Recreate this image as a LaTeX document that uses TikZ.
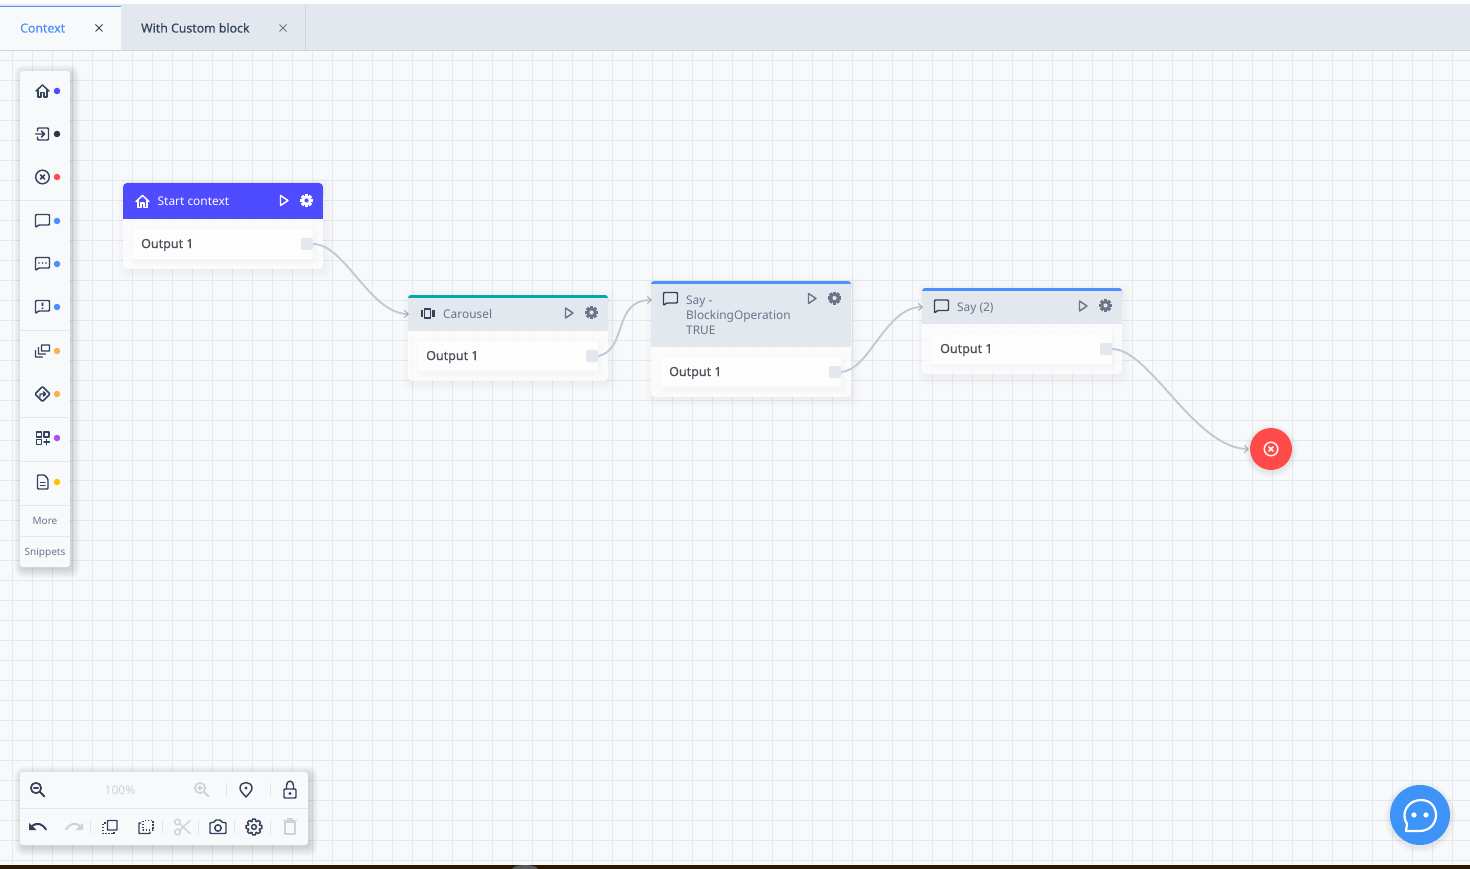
\documentclass[tikz,border=0pt]{standalone}
\usepackage{fontspec}
\setmainfont{Noto Sans}
\newfontfamily\medfont[FakeBold=0.25]{Noto Sans}
\usetikzlibrary{positioning,arrows.meta}

\definecolor{canvasbg}{HTML}{F8F9FB}
\definecolor{gridline}{HTML}{E4E8F1}
\definecolor{tabbg}{HTML}{E3E7EE}
\definecolor{tabline}{HTML}{CFD4DC}
\definecolor{sepline}{HTML}{E3E7EE}
\definecolor{inkdark}{HTML}{34425C}
\definecolor{inkgrey}{HTML}{6B7488}
\definecolor{inkoff}{HTML}{CDD2DA}
\definecolor{outtext}{HTML}{4B4F58}
\definecolor{portbg}{HTML}{E3E7EE}
\definecolor{wirecol}{HTML}{C3C8D1}
\definecolor{tipcol}{HTML}{9CA3AF}
\definecolor{startcol}{HTML}{4F4BFF}
\definecolor{tealcol}{HTML}{00A8A8}
\definecolor{saycol}{HTML}{4C8FFF}
\definecolor{redcol}{HTML}{FF4A4A}
\definecolor{orangecol}{HTML}{FFAE4F}
\definecolor{purplecol}{HTML}{A94FF5}
\definecolor{yellowcol}{HTML}{FFC400}
\definecolor{chatcol}{HTML}{3D93F7}

\tikzset{
	x=1pt, y=-1pt,
	wire/.style={draw=wirecol, line width=1.9pt, -{Straight Barb[length=4pt,width=7pt,line width=0.9pt,color=tipcol]}},
	portbox/.style={draw=none, fill=portbg, rounded corners=1.5pt, minimum size=12pt, inner sep=0pt},
	outrow/.style={draw=none, fill=white, fill opacity=0.85, minimum width=180pt, minimum height=30pt, inner sep=0pt},
	outlabel/.style={anchor=base west, inner sep=0pt, text=outtext, font=\fontsize{12.5}{15}\medfont},
	headlabel/.style={anchor=base west, inner sep=0pt, text=inkgrey, font=\fontsize{11.9}{15}\selectfont},
	tablabel/.style={anchor=base west, inner sep=0pt, font=\fontsize{12.3}{15}\medfont},
	barlabel/.style={anchor=base, inner sep=0pt, text=inkgrey, font=\fontsize{10}{12}\selectfont},
	dot/.style={circle, minimum size=6.5pt, inner sep=0pt, draw=none},
	bodybox/.style={fill=white, fill opacity=0.8, rounded corners=4pt},
	ic/.style={line width=1.45pt, line join=round, line cap=round},
	pics/homeic/.style={code={
		\draw[ic] (-6.5,0) -- (0,-6) -- (6.5,0);
		\draw[ic] (-4.5,-1) -- (-4.5,6) -- (-1.5,6) -- (-1.5,1.5) -- (1.5,1.5) -- (1.5,6) -- (4.5,6) -- (4.5,-1);
	}},
	pics/entryic/.style={code={
		\draw[ic,rounded corners=1pt] (-5,-3) -- (-5,-6) -- (6,-6) -- (6,6) -- (-5,6) -- (-5,3);
		\draw[ic] (-7,0) -- (2,0) (-1,-3) -- (2,0) -- (-1,3);
	}},
	pics/exitic/.style={code={
		\draw[ic] (0,0) circle[radius=6.8];
		\draw[ic] (-2.2,-2.2) -- (2.2,2.2) (-2.2,2.2) -- (2.2,-2.2);
	}},
	pics/sayic/.style={code={
		\draw[ic,rounded corners=1pt] (-7,6.5) -- (-7,-6.5) -- (7,-6.5) -- (7,4) -- (-4,4) -- cycle;
	}},
	pics/stackic/.style={code={
		\draw[ic,rounded corners=0.5pt] (-1,-6) rectangle (7,0);
		\draw[ic,rounded corners=0.5pt] (-4,-3.5) -- (-4,3) -- (3,3);
		\draw[ic,rounded corners=0.5pt] (-7,-0.5) -- (-7,6) -- (0,6);
	}},
	pics/routeic/.style={code={
		\draw[ic,rounded corners=1pt] (0,-7.5) -- (7.5,0) -- (0,7.5) -- (-7.5,0) -- cycle;
		\draw[ic] (-2.5,3) -- (-2.5,0) -- (3,0) (1,-2) -- (3,0) -- (1,2);
	}},
	pics/customic/.style={code={
		\draw[ic,line cap=butt] (-6,-6) rectangle (-1,-1);
		\draw[ic,line cap=butt] (1.5,-6) rectangle (6.5,-1);
		\draw[ic,line cap=butt] (-6,1.5) rectangle (-1,6.5);
		\draw[ic] (1.5,4) -- (7,4) (4.2,1.5) -- (4.2,6.8);
	}},
	pics/docic/.style={code={
		\draw[ic,rounded corners=1pt] (-5,-7) -- (2,-7) -- (5.5,-3) -- (5.5,7) -- (-5,7) -- cycle;
		\draw[ic] (-2,0.5) -- (2.5,0.5) (-2,3.5) -- (2.5,3.5);
	}},
	pics/carouselic/.style={code={
		\draw[ic,line cap=butt] (-3,-4.5) rectangle (3,4.5);
		\fill (-7,-3.5) rectangle (-4.5,3.5);
		\fill (4.5,-3.5) rectangle (7,3.5);
	}},
	pics/playic/.style={code={
		\draw[ic] (-3.5,-5) -- (4,0) -- (-3.5,5) -- cycle;
	}},
	pics/gearic/.style={code={
		\foreach \a in {0,45,...,315}
			\fill[rotate=\a] (-1.7,-6.5) rectangle (1.7,0);
		\fill (0,0) circle[radius=5.1];
		\fill[#1] (0,0) circle[radius=2.1];
	}},
	pics/gearline/.style={code={
		\draw[ic] (-11:8) \foreach \a in {0,45,...,315}{ -- (\a-11:8) -- (\a+11:8) -- (\a+18:6) -- (\a+27:6)} -- cycle;
		\draw[ic] (0,0) circle[radius=2.4];
	}},
	pics/lensic/.style={code={
		\draw[ic,line width=1.7pt] (-1.5,-1.5) circle[radius=5.2];
		\draw[ic,line width=2pt] (2.5,2.5) -- (7,7);
		\draw[ic] (-3.7,-1.5) -- (0.7,-1.5);
	}},
	pics/pinic/.style={code={
		\draw[ic] (0,7.5) .. controls (-3,4) and (-6,1.5) .. (-6,-1.5) .. controls (-6,-5) and (-3,-7) .. (0,-7) .. controls (3,-7) and (6,-5) .. (6,-1.5) .. controls (6,1.5) and (3,4) .. (0,7.5) -- cycle;
		\fill (0,-1.5) circle[radius=1.7];
	}},
	pics/lockic/.style={code={
		\draw[ic,rounded corners=1pt] (-6,-0.5) rectangle (6,8.5);
		\draw[ic] (-3.5,-0.5) -- (-3.5,-4) .. controls (-3.5,-9.8) and (3.5,-9.8) .. (3.5,-4) -- (3.5,-0.5);
		\fill (0,4) circle[radius=1.6];
	}},
	pics/undoic/.style={code={
		\draw[ic,line width=2pt] (-6,-1) .. controls (-1,-5) and (4,-3.5) .. (8,2.5);
		\fill (-9,-4) -- (-9,3) -- (-1.5,3) -- cycle;
	}},
	pics/redoic/.style={code={
		\draw[ic,line width=2pt] (6,-1) .. controls (1,-5) and (-4,-3.5) .. (-8,2.5);
		\fill (9,-4) -- (9,3) -- (1.5,3) -- cycle;
	}},
	pics/copyic/.style={code={
		\draw[ic,rounded corners=0.5pt] (-2.5,-6.5) rectangle (7,3);
		\draw[ic,dash pattern=on 1.5pt off 1.5pt,line cap=butt] (-4.5,-4) -- (-7,-4) -- (-7,6.5) -- (4,6.5) -- (4,5);
	}},
	pics/pasteic/.style={code={
		\draw[ic,dash pattern=on 1.5pt off 1.5pt,line cap=butt] (-3,-6.5) rectangle (7,3);
		\draw[ic,rounded corners=0.5pt] (-5,-4) -- (-7,-4) -- (-7,6.5) -- (4,6.5) -- (4,5);
	}},
	pics/scissorsic/.style={code={
		\draw[ic] (-4.5,-5) circle[radius=2.8] (-4.5,5) circle[radius=2.8];
		\draw[ic] (-2.5,-3.5) -- (8,6.5) (-2.5,3.5) -- (8,-6.5);
	}},
	pics/cameraic/.style={code={
		\draw[ic,rounded corners=1pt] (-8,-4.5) -- (-4,-4.5) -- (-2.5,-7) -- (2.5,-7) -- (4,-4.5) -- (8,-4.5) -- (8,6.5) -- (-8,6.5) -- cycle;
		\draw[ic] (0,1) circle[radius=3.2];
	}},
	pics/trashic/.style={code={
		\draw[ic] (-5,-5) -- (-5,7) -- (5,7) -- (5,-5) -- cycle;
		\draw[ic] (-6.5,-6.5) -- (6.5,-6.5) (-2.5,-8) -- (2.5,-8);
	}},
}

% soft shadow made of stacked rectangles
\newcommand{\softshadow}[6][0.004]{%
	\foreach \s in {1,...,#6}
		\fill[black, opacity=#1, rounded corners=\s pt] (#2-\s+4,#3-\s+4) rectangle (#4+\s,#5+\s+1);
}

\begin{document}
\begin{tikzpicture}

	\useasboundingbox (0,0) rectangle (1470,869);
	\fill[canvasbg] (0,0) rectangle (1470,869);

	% grid
	\foreach \gx in {0,...,72}
		\draw[gridline, line width=1.2pt] (12.5+20*\gx,50) -- (12.5+20*\gx,869);
	\foreach \gy in {3,...,43}
		\draw[gridline, line width=1.2pt] (0,20*\gy+0.7) -- (1470,20*\gy+0.7);

	% tabs
	\fill[tabbg] (0,4) rectangle (1470,50);
	\fill[white!94!tabbg] (0,0) rectangle (1470,4);
	\draw[tabline] (0,50) -- (1470,50);
	\fill[canvasbg] (0,6) rectangle (121,50.5);
	\fill[saycol] (0,6) rectangle (121,7.5);
	\draw[tabline] (305.5,6) -- (305.5,50);
	\node[tablabel, text=saycol] (tabcontext) at (20,32.5) {Context};
	\node[tablabel, text=inkdark] (tabcustom) at (141,32.5) {With Custom block};
	\draw[inkdark, line width=1pt] (95.5,24.5) -- (102.5,31.5) (95.5,31.5) -- (102.5,24.5);
	\draw[inkgrey, line width=1pt] (279.5,24.5) -- (286.5,31.5) (279.5,31.5) -- (286.5,24.5);

	% side bar
	\softshadow[0.015]{20}{71}{70}{567}{10}
	\fill[canvasbg, rounded corners=3pt] (20,71) rectangle (70,567);
	\foreach \sy in {200.5,330.5,417.5,461.5,505.5,536.5}
		\draw[sepline] (20,\sy) -- (70,\sy);
	\pic[inkdark] at (42.5,91) {homeic};
	\pic[inkdark] at (42.5,134) {entryic};
	\pic[inkdark] at (42.5,177) {exitic};
	\pic[inkdark] at (42.5,221) {sayic};
	\pic[inkdark] at (42.5,264) {sayic};
	\fill[inkdark] (39,263) circle[radius=0.8] (42.5,263) circle[radius=0.8] (46,263) circle[radius=0.8];
	\pic[inkdark] at (42.5,307) {sayic};
	\fill[inkdark] (41.7,302.5) rectangle (43.3,306) (41.7,307.5) rectangle (43.3,309);
	\pic[inkdark] at (42.5,351) {stackic};
	\pic[inkdark] at (42.5,394) {routeic};
	\pic[inkdark] at (42.5,438) {customic};
	\pic[inkdark] at (42.5,482) {docic};
	\node[dot, fill=startcol] (dothome) at (57,91) {};
	\node[dot, fill=inkdark!80!black] (dotentry) at (57,134) {};
	\node[dot, fill=redcol] (dotexit) at (57,177) {};
	\node[dot, fill=saycol] (dotsay) at (57,221) {};
	\node[dot, fill=saycol] (dotask) at (57,264) {};
	\node[dot, fill=saycol] (dotnote) at (57,307) {};
	\node[dot, fill=orangecol] (dotstack) at (57,351) {};
	\node[dot, fill=orangecol] (dotroute) at (57,394) {};
	\node[dot, fill=purplecol] (dotcustom) at (57,438) {};
	\node[dot, fill=yellowcol] (dotdoc) at (57,482) {};
	\node[barlabel] (barmore) at (45,524) {More};
	\node[barlabel] (barsnippets) at (45,555) {Snippets};

	% start block
	\softshadow{123}{183}{323}{269}{10}
	\fill[bodybox] (123,183) rectangle (323,269);
	\fill[startcol, rounded corners=4pt] (123,183) rectangle (323,200);
	\fill[startcol] (123,190) rectangle (323,219);
	\softshadow{133}{229}{313}{259}{6}
	\node[outrow] (startrow) at (223,244) {};
	\node[outlabel] (startlabel) at (141,248) {Output 1};
	\node[portbox] (startport) at (307,244) {};
	\pic[white] at (142.5,201.5) {homeic};
	\node[headlabel, text=white] (starttext) at (157.5,206) {Start context};
	\pic[white] at (284,200.5) {playic};
	\pic[white] at (306.5,200.5) {gearic=startcol};

	% carousel block
	\softshadow{408}{295}{608}{381}{10}
	\fill[bodybox] (408,295) rectangle (608,381);
	\fill[tealcol, rounded corners=3pt] (408,295) rectangle (608,305);
	\fill[tabbg] (408,298) rectangle (608,331);
	\softshadow{418}{341}{598}{371}{6}
	\node[outrow] (carouselrow) at (508,356) {};
	\node[outlabel] (carousellabel) at (426,360) {Output 1};
	\node[portbox] (carouselport) at (592,356) {};
	\coordinate (carouselin) at (409,314);
	\pic[inkdark] at (427.5,313.5) {carouselic};
	\node[headlabel] (carouseltext) at (443,318) {Carousel};
	\pic[inkgrey] at (569,313) {playic};
	\pic[inkgrey] at (591.5,312.5) {gearic=tabbg};

	% say block
	\softshadow{651}{281}{851}{397}{10}
	\fill[bodybox] (651,281) rectangle (851,397);
	\fill[saycol, rounded corners=3pt] (651,281) rectangle (851,291);
	\fill[tabbg] (651,284) rectangle (851,347);
	\softshadow{661}{357}{841}{387}{6}
	\node[outrow] (sayrow) at (751,372) {};
	\node[outlabel] (saylabel) at (669,376) {Output 1};
	\node[portbox] (sayport) at (835,372) {};
	\coordinate (sayin) at (652,300);
	\pic[inkdark] at (670.5,299) {sayic};
	\node[headlabel] (saytexta) at (686,304) {Say -};
	\node[headlabel] (saytextb) at (686,319) {BlockingOperation};
	\node[headlabel] (saytextc) at (686,334) {TRUE};
	\pic[inkgrey] at (812,298.5) {playic};
	\pic[inkgrey] at (834.5,298) {gearic=tabbg};

	% say 2 block
	\softshadow{922}{288}{1122}{374}{10}
	\fill[bodybox] (922,288) rectangle (1122,374);
	\fill[saycol, rounded corners=3pt] (922,288) rectangle (1122,298);
	\fill[tabbg] (922,291) rectangle (1122,324);
	\softshadow{932}{334}{1112}{364}{6}
	\node[outrow] (saytworow) at (1022,349) {};
	\node[outlabel] (saytwolabel) at (940,353) {Output 1};
	\node[portbox] (saytwoport) at (1106,349) {};
	\coordinate (saytwoin) at (923,307);
	\pic[inkdark] at (941.5,306.5) {sayic};
	\node[headlabel] (saytwotext) at (957,311) {Say (2)};
	\pic[inkgrey] at (1083,306) {playic};
	\pic[inkgrey] at (1105.5,305.5) {gearic=tabbg};

	% exit
	\foreach \s in {1,...,6}
		\fill[black, opacity=0.012] (1271,451) circle[radius=21+\s];
	\node[circle, fill=redcol, minimum size=42pt, inner sep=0pt] (exitnode) at (1271,449) {};
	\coordinate (exitin) at (1249,449);
	\pic[white] at (1271,449) {exitic};

	% wires
	\draw[wire] (startport.east) .. controls (345,244) and (370,314) .. (carouselin);
	\draw[wire] (carouselport.east) .. controls (628,350) and (612,300) .. (sayin);
	\draw[wire] (sayport.east) .. controls (870,370) and (885,307) .. (saytwoin);
	\draw[wire] (saytwoport.east) .. controls (1150,349) and (1195,449) .. (exitin);

	% tool bar
	\softshadow[0.015]{20}{772}{308}{845}{10}
	\fill[canvasbg, rounded corners=3pt] (20,772) rectangle (308,845);
	\draw[sepline] (20,808.5) -- (308,808.5);
	\foreach \sx/\sy in {226.5/790,270.5/790,90.5/827,162.5/827,198.5/827,234.5/827,270.5/827}
		\draw[sepline] (\sx,\sy-7) -- (\sx,\sy+7);
	\pic[inkdark] at (37.5,789.5) {lensic};
	\node[barlabel, text=inkoff, font=\fontsize{12}{15}\selectfont] (zoomtext) at (120,794.5) {100\%};
	\pic[inkoff] at (201.5,789.5) {lensic};
	\draw[ic, inkoff] (200,786) -- (200,790);
	\pic[inkdark] at (246,789.5) {pinic};
	\pic[inkdark] at (290,789.5) {lockic};
	\pic[inkdark] at (38,827) {undoic};
	\pic[inkoff] at (74,827) {redoic};
	\pic[inkdark] at (110,827) {copyic};
	\pic[inkdark] at (146,827) {pasteic};
	\pic[inkoff] at (182,827) {scissorsic};
	\pic[inkdark] at (218,827) {cameraic};
	\pic[inkdark] at (254,827) {gearline};
	\pic[inkoff] at (290,827) {trashic};

	% chat button
	\foreach \s in {1,...,6}
		\fill[black, opacity=0.012] (1420,817) circle[radius=30+\s];
	\node[circle, fill=chatcol, minimum size=60pt, inner sep=0pt] (chatbutton) at (1420,815) {};
	\draw[white, line width=2.2pt, line join=round] (1406,831) -- (1407,824) .. controls (1400,813) and (1408,800) .. (1421,800) .. controls (1433,800) and (1436,810) .. (1436,815) .. controls (1436,825) and (1428,831) .. (1420,831) -- cycle;
	\fill[white] (1414,815) circle[radius=2.6] (1426,815) circle[radius=2.6];

	% bottom edge
	\fill[black!82!orange] (0,865) rectangle (1470,869);
	\begin{scope}
		\clip (0,865) rectangle (1470,869);
		\fill[black!65] (525,869.5) ellipse[x radius=13, y radius=4.5];
	\end{scope}

\end{tikzpicture}
\end{document}
